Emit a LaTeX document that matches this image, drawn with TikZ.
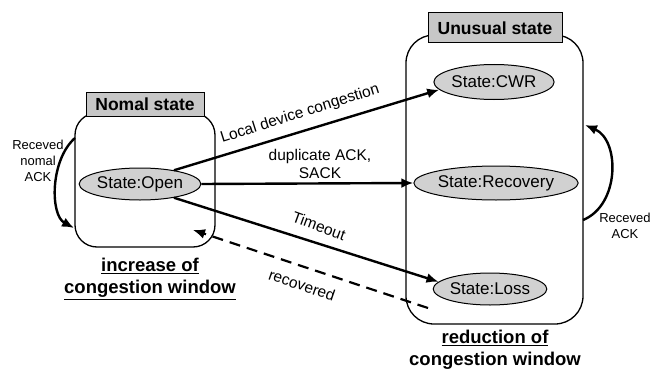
\documentclass[tikz,border=0pt]{standalone}
\usepackage{fontspec}
\setmainfont{Liberation Sans}
\usetikzlibrary{shapes.geometric,arrows.meta}
\begin{document}
\begin{tikzpicture}[x=1pt,y=-1pt,
  groupbox/.style={draw, line width=1.3pt, rounded corners=22pt, inner sep=0pt},
  titlebox/.style={draw, line width=1pt, fill=black!22, inner sep=0pt, font=\fontsize{17.5}{20}\selectfont\bfseries},
  statenode/.style={ellipse, draw, line width=1pt, fill=black!18, inner sep=0pt, font=\fontsize{17}{20}\selectfont},
  arr/.style={line width=2.4pt, -{Latex[length=12pt,width=10pt]}},
  lbl/.style={font=\fontsize{15.5}{18}\selectfont, align=center, inner sep=0pt},
  small/.style={font=\fontsize{13}{16}\selectfont, align=center, inner sep=0pt},
  caption/.style={font=\fontsize{18.5}{21}\selectfont\bfseries, align=center, inner sep=0pt}]
\useasboundingbox (0,0) rectangle (650,369);
% group boxes
\node[groupbox, minimum width=140pt, minimum height=134pt] (lbox) at (145,180) {};
\node[groupbox, rounded corners=28pt, minimum width=177pt, minimum height=289pt] (rbox) at (494.5,179.5) {};
\node[titlebox, minimum width=118pt, minimum height=24pt] (ltitle) at (145,104) {Nomal state};
\node[titlebox, minimum width=134pt, minimum height=30pt] (rtitle) at (495,28) {Unusual state};
% states
\node[statenode, minimum width=117pt, minimum height=32pt] (open) at (140,184) {State:Open};
\node[statenode, minimum width=118pt, minimum height=35pt] (cwr) at (494,82) {State:CWR};
\node[statenode, minimum width=152pt, minimum height=34pt] (rec) at (496,183) {State:Recovery};
\node[statenode, minimum width=111pt, minimum height=32pt] (loss) at (490,289) {State:Loss};
% captions
\node[caption] (lcap) at (150,279) {\underline{increase of}\\[1pt]\underline{congestion window}};
\node[caption] (rcap) at (495,350) {\underline{reduction of}\\[1pt]congestion window};
% transitions
\draw[arr] (open.22) -- (cwr.188);
\draw[arr] (open.east) -- (rec.west);
\draw[arr] (open.-22) -- (loss.172);
\coordinate (rs) at (428,308);
\coordinate (re) at (193,230);
\draw[line width=2.2pt, dash pattern=on 11pt off 7pt, -{Latex[length=12pt,width=10pt]}] (rs) -- (re);
% self loops
\coordinate (la) at (75,138);
\coordinate (lb) at (74,228);
\draw[arr] (la) .. controls (50,160) and (50,215) .. (lb);
\coordinate (ra) at (583,220);
\coordinate (rb) at (585,125);
\draw[arr] (ra) .. controls (620,205) and (620,140) .. (rb);
% labels
\node[lbl, rotate=17.6] (l1) at (300,114) {Local device congestion};
\node[lbl] (l2) at (320,164) {duplicate ACK,\\SACK};
\node[lbl, rotate=-20] (l3) at (319,226) {Timeout};
\node[lbl, rotate=-19] (l4) at (302,285) {recovered};
\node[small] (l5) at (38,161) {Receved\\nomal\\ACK};
\node[small] (l6) at (625,226) {Receved\\ACK};
\end{tikzpicture}
\end{document}
